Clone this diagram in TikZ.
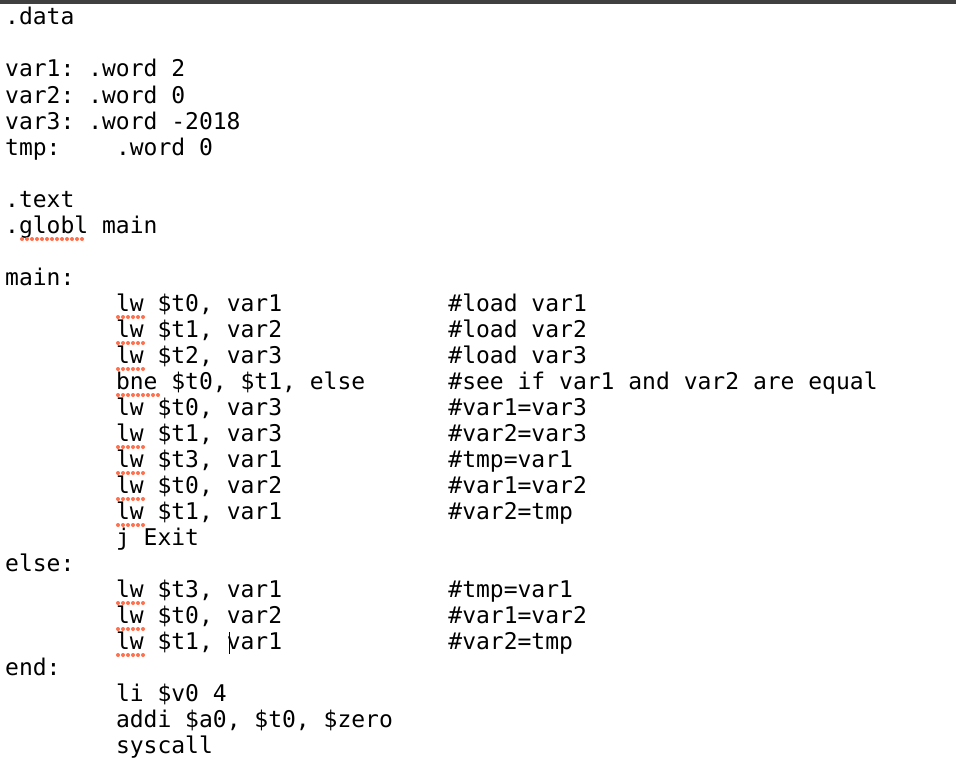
\documentclass[tikz,border=0pt]{standalone}
\usepackage{fontspec}
\setmonofont{DejaVu Sans Mono}
\begin{document}
\begin{tikzpicture}[x=1pt,y=-1pt,
  code/.style={anchor=base west,inner sep=0pt,font=\ttfamily\fontsize{23}{26}\selectfont},
  sq/.style={fill=red!60!orange!70,draw=none}]
\useasboundingbox (0,0) rectangle (956,776);
\fill[white] (0,0) rectangle (956,776);
\fill[black!75] (0,0) rectangle (956,4);
\def\cw{13.85}
\newcommand\codeln[4]{\node[code] (#1) at ({5+#2*\cw},{#3+7}) {#4};}
\codeln{a}{0}{18}{.data}
\codeln{b1}{0}{70}{var1: .word 2}
\codeln{b2}{0}{96}{var2: .word 0}
\codeln{b3}{0}{122}{var3: .word -2018}
\codeln{b4}{0}{148}{tmp:}
\codeln{b4w}{8}{148}{.word 0}
\codeln{c1}{0}{200}{.text}
\codeln{c2}{0}{226}{.globl main}
\codeln{m}{0}{278}{main:}
\codeln{m1}{8}{304}{lw \$t0, var1}\codeln{m1c}{32}{304}{\#load var1}
\codeln{m2}{8}{330}{lw \$t1, var2}\codeln{m2c}{32}{330}{\#load var2}
\codeln{m3}{8}{356}{lw \$t2, var3}\codeln{m3c}{32}{356}{\#load var3}
\codeln{m4}{8}{382}{bne \$t0, \$t1, else}\codeln{m4c}{32}{382}{\#see if var1 and var2 are equal}
\codeln{m5}{8}{408}{lw \$t0, var3}\codeln{m5c}{32}{408}{\#var1=var3}
\codeln{m6}{8}{434}{lw \$t1, var3}\codeln{m6c}{32}{434}{\#var2=var3}
\codeln{m7}{8}{460}{lw \$t3, var1}\codeln{m7c}{32}{460}{\#tmp=var1}
\codeln{m8}{8}{486}{lw \$t0, var2}\codeln{m8c}{32}{486}{\#var1=var2}
\codeln{m9}{8}{512}{lw \$t1, var1}\codeln{m9c}{32}{512}{\#var2=tmp}
\codeln{m10}{8}{538}{j Exit}
\codeln{e}{0}{564}{else:}
\codeln{e1}{8}{590}{lw \$t3, var1}\codeln{e1c}{32}{590}{\#tmp=var1}
\codeln{e2}{8}{616}{lw \$t0, var2}\codeln{e2c}{32}{616}{\#var1=var2}
\codeln{e3}{8}{642}{lw \$t1, var1}\codeln{e3c}{32}{642}{\#var2=tmp}
\codeln{n}{0}{668}{end:}
\codeln{n1}{8}{694}{li \$v0 4}
\codeln{n2}{8}{720}{addi \$a0, \$t0, \$zero}
\codeln{n3}{8}{746}{syscall}
\newcommand\spelldots[3]{\foreach \xx in {0,5,...,#2} \fill[sq] ({#1+\xx},{#3}) circle (2);}
\foreach \yy in {304,330,356,434,460,486,512,590,616,642} {\spelldots{118}{25}{\yy+13}}
\spelldots{118}{40}{395}
\spelldots{22}{60}{239}
\draw[black,line width=1pt] (229,632) -- (229,654);
\end{tikzpicture}
\end{document}
